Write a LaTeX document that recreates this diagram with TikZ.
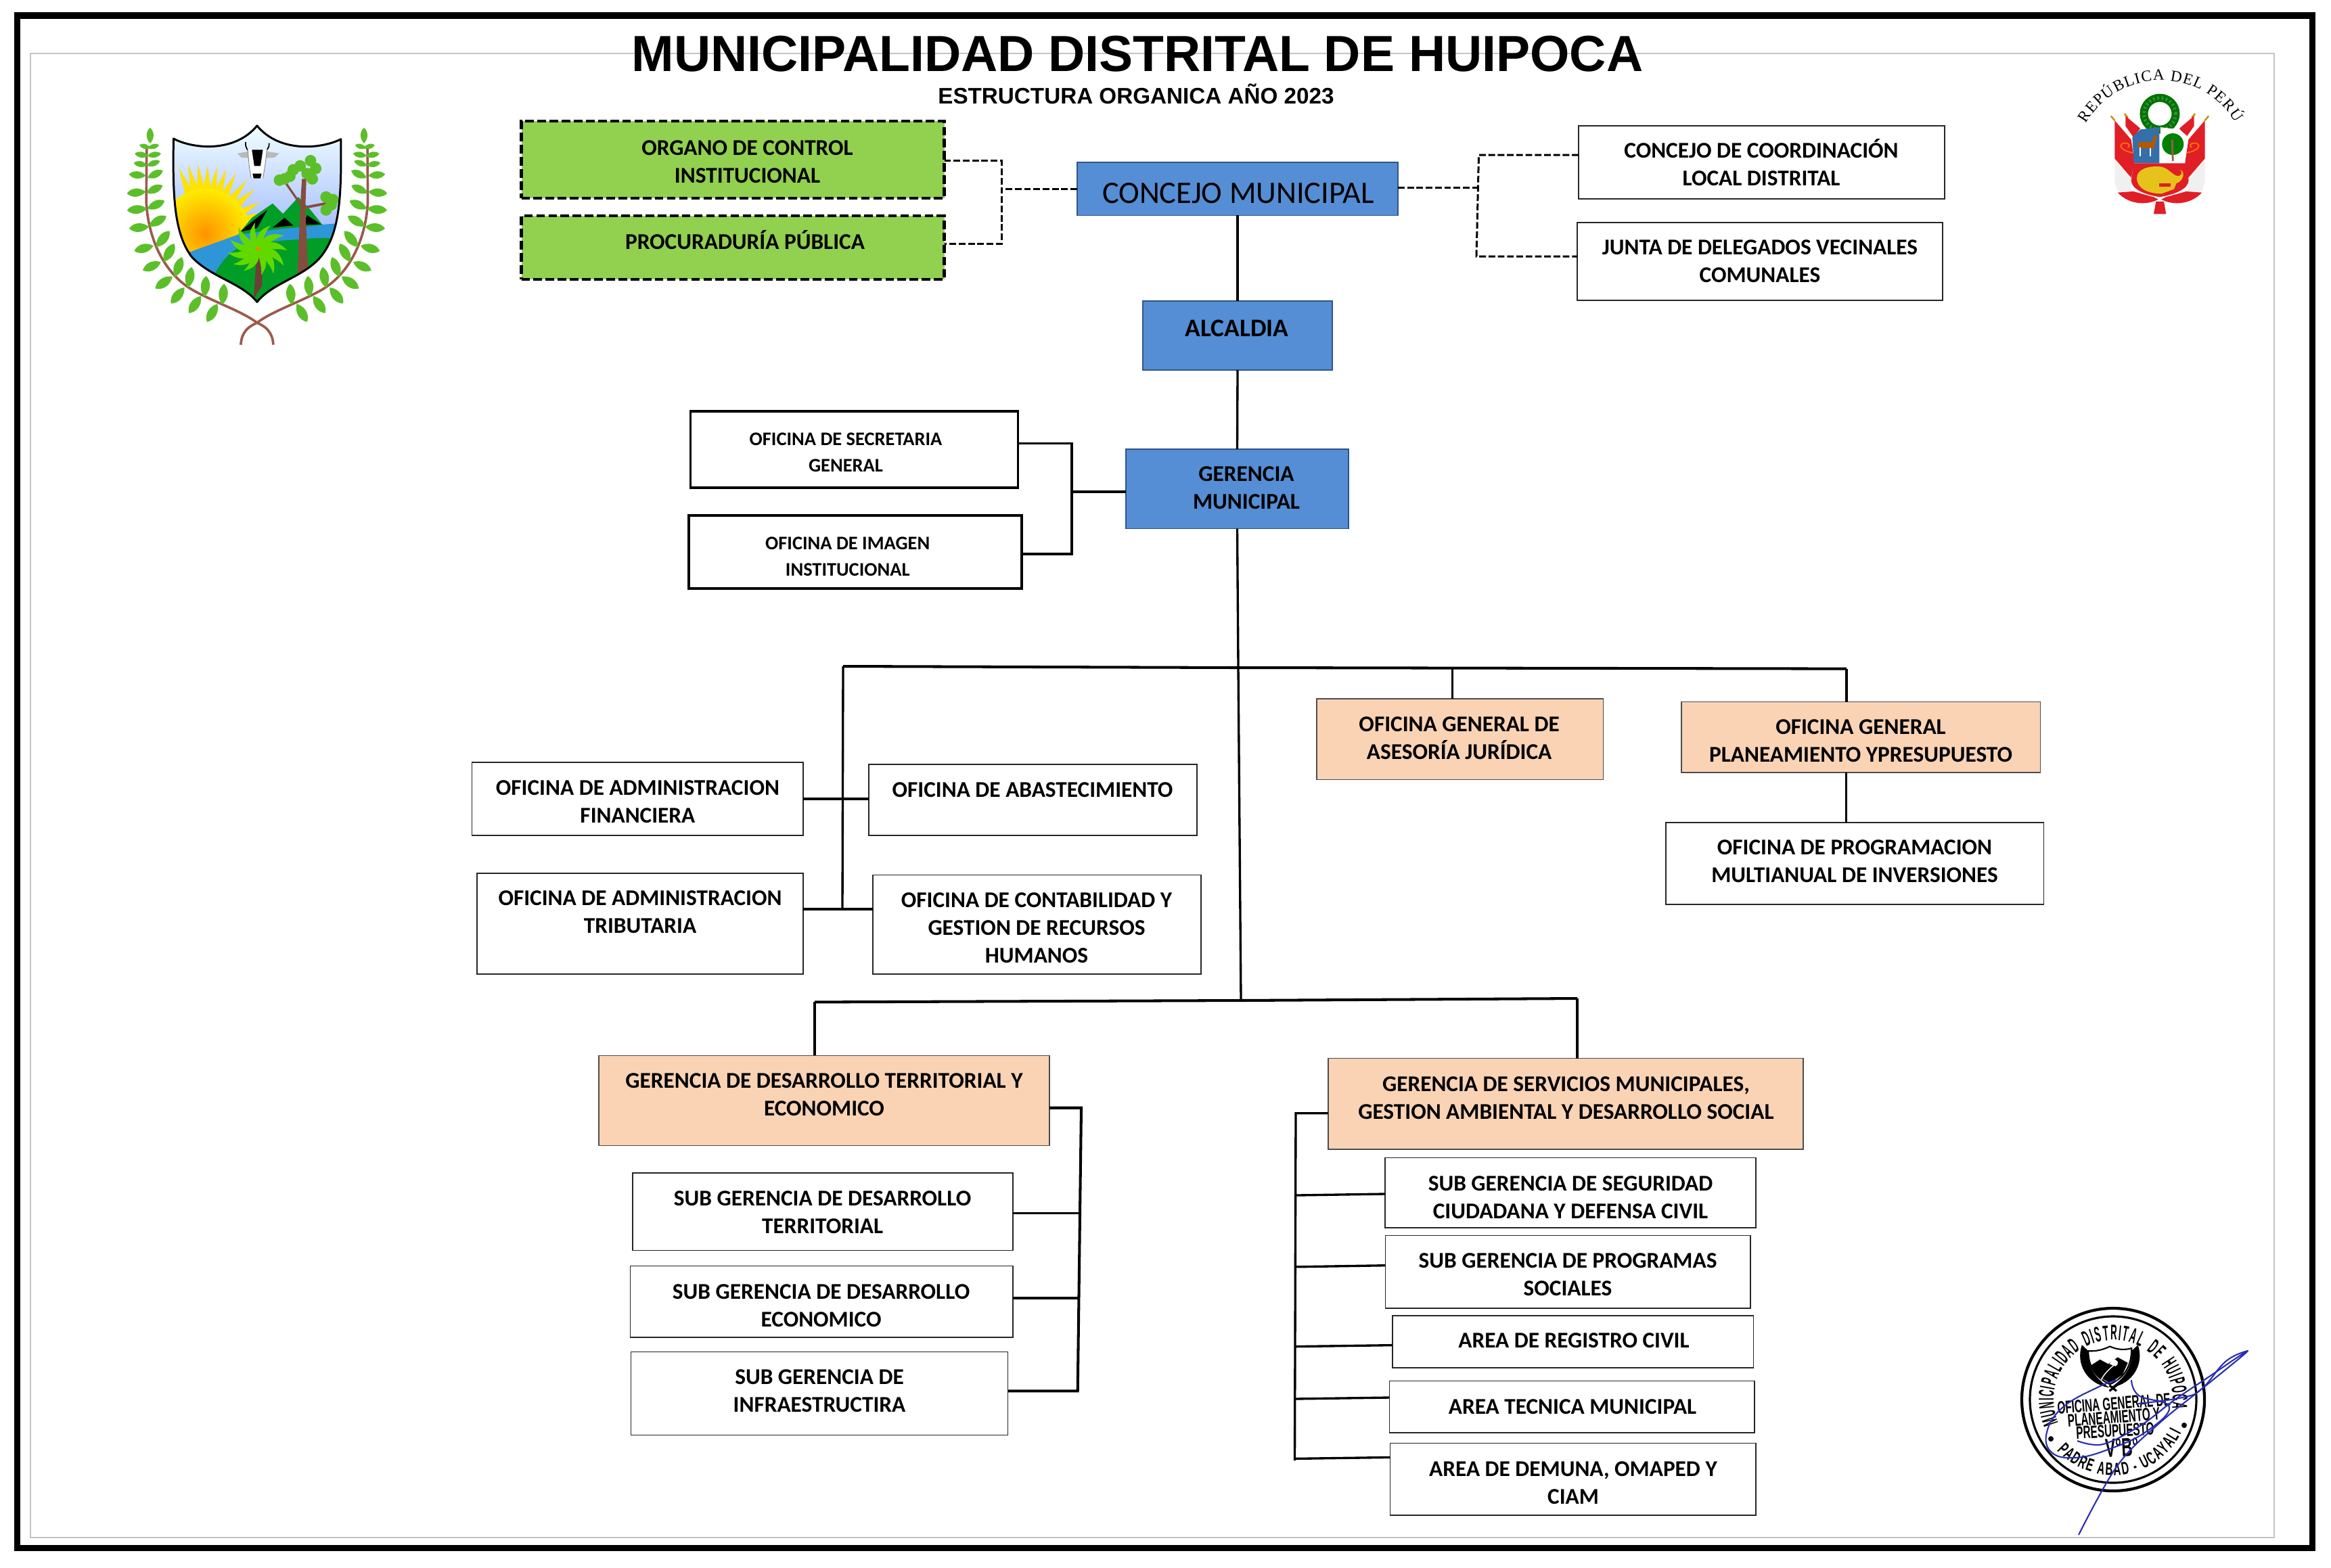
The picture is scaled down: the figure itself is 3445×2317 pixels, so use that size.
\documentclass[tikz,border=0pt]{standalone}
\usepackage{fontspec}
\setmainfont{Carlito}
\newfontfamily\arialfam{Liberation Sans}
\newfontfamily\seriffam{Liberation Serif}
\newfontfamily\stampfam[FakeStretch=0.58]{Liberation Sans}
\newfontfamily\ringfam[FakeStretch=0.42]{Liberation Sans}
\usetikzlibrary{decorations.text,calc}
\definecolor{bluefill}{HTML}{558ED5}
\definecolor{blueedge}{HTML}{2F5586}
\definecolor{greenfill}{HTML}{92D050}
\definecolor{peachfill}{HTML}{FAD3B5}
\definecolor{innerframe}{HTML}{C4C4C4}
\definecolor{leafgreen}{HTML}{5CBF2A}
\definecolor{stemcol}{HTML}{9B5B4B}
\definecolor{inkblue}{HTML}{2A2FB0}
\definecolor{perured}{HTML}{E01E26}
\tikzset{
  boxbase/.style={draw,inner sep=0pt,outer sep=0pt,rectangle},
  font33/.style={font=\fontsize{9.47}{11.67}\selectfont\bfseries},
  font27/.style={font=\fontsize{8.08}{11.24}\selectfont\bfseries},
  whitebox/.style={boxbase,fill=white,draw=black!85,line width=0.45pt,font33},
  heavybox/.style={boxbase,fill=white,line width=1.1pt,font27},
  greenbox/.style={boxbase,fill=greenfill,line width=1.2pt,dash pattern=on 3.6pt off 1.5pt,font33},
  bluebox/.style={boxbase,fill=bluefill,draw=blueedge,line width=0.5pt,font33},
  peachbox/.style={boxbase,fill=peachfill,draw=black!70,line width=0.45pt,font33},
  conn/.style={line width=0.95pt,line cap=butt,line join=miter},
  connheavy/.style={line width=1.15pt},
  connd/.style={line width=0.85pt,dash pattern=on 2.8pt off 1.1pt},
}
\newcommand\bx[9]{%
  \pgfmathsetlengthmacro\bxw{(#5-#3)*0.01cm}%
  \pgfmathsetlengthmacro\bxh{(#6-#4)*0.01cm}%
  \pgfmathsetlengthmacro\bxd{2*(#7-(#3+#5)/2)*0.01cm}%
  \pgfmathsetlengthmacro\bxr{((#4+#6)/2-#8)*0.01cm}%
  \node[#1,minimum width=\bxw,minimum height=\bxh] (#2) at ({(#3+#5)/2},{(#4+#6)/2})
    {\makebox[0pt]{\hspace*{\bxd}\raisebox{\bxr}[0pt][0pt]{\begin{tabular}[t]{@{}c@{}}#9\end{tabular}}}};%
}
\newcommand\leafshape[4]{%
  \fill[leafgreen,shift={(#1,#2)},rotate=#3,scale=#4] (-0.155cm,0) .. controls (-0.05cm,0.095cm) and (0.08cm,0.085cm) .. (0.155cm,0) .. controls (0.08cm,-0.085cm) and (-0.05cm,-0.095cm) .. (-0.155cm,0) -- cycle;}
\begin{document}
\begin{tikzpicture}[x=0.01cm,y=-0.01cm]
\useasboundingbox (0,0) rectangle (3445,2317);
\fill[white] (0,0) rectangle (3445,2317);
% frames
\draw[innerframe,line width=0.55pt] (45,79) rectangle (3361,2273);
\draw[black,line width=2.7pt] (25.5,23) rectangle (3417.5,2288.5);
% title
\node[anchor=base,font=\fontsize{21.35}{24}\selectfont\arialfam\bfseries,inner sep=0pt] (title) at (1681,105) {MUNICIPALIDAD DISTRITAL DE HUIPOCA};
\node[anchor=base,font=\fontsize{9.45}{12}\selectfont\arialfam\bfseries,inner sep=0pt] (subtitle) at (1679,153) {ESTRUCTURA ORGANICA AÑO 2023};
% boxes
\bx{greenbox}{oci}{770.5}{179}{1395.5}{292.6}{1104.5}{229}{ORGANO DE CONTROL\\INSTITUCIONAL}
\bx{greenbox}{proc}{770.5}{319}{1395.5}{413}{1101}{368.7}{PROCURADURÍA PÚBLICA}
\bx{bluebox,font=\fontsize{13.16}{15}\selectfont}{conc}{1592}{240}{2066}{318.4}{1830}{300}{CONCEJO MUNICIPAL}
\bx{bluebox,font=\fontsize{10.65}{12}\selectfont\bfseries}{alc}{1689}{445}{1969}{547}{1828}{497.4}{ALCALDIA}
\bx{bluebox}{ger}{1664}{664}{1993}{781.6}{1842}{711.8}{GERENCIA\\MUNICIPAL}
\bx{whitebox}{ccl}{2333}{185.7}{2874}{294}{2603}{233.7}{CONCEJO DE COORDINACIÓN\\LOCAL DISTRITAL}
\bx{whitebox}{jdv}{2331}{328.7}{2871}{444}{2601}{376.7}{JUNTA DE DELEGADOS VECINALES\\COMUNALES}
\bx{heavybox}{sec}{1020.5}{608}{1504.5}{721}{1250}{658}{OFICINA DE SECRETARIA\\GENERAL}
\bx{heavybox}{img}{1018}{762.4}{1510}{870}{1252.7}{812}{OFICINA DE IMAGEN\\INSTITUCIONAL}
\bx{whitebox}{fin}{697.6}{1126.8}{1187}{1235}{942.4}{1175.6}{OFICINA DE ADMINISTRACION\\FINANCIERA}
\bx{whitebox}{aba}{1283.7}{1130}{1768.8}{1235}{1526}{1178}{OFICINA DE ABASTECIMIENTO}
\bx{whitebox}{tri}{705}{1290.7}{1187}{1440}{946}{1338.5}{OFICINA DE ADMINISTRACION\\TRIBUTARIA}
\bx{whitebox}{con}{1290}{1293.6}{1775}{1440}{1532}{1341}{OFICINA DE CONTABILIDAD Y\\GESTION DE RECURSOS\\HUMANOS}
\bx{peachbox}{ase}{1946}{1033}{2369.6}{1152.5}{2156.6}{1081.6}{OFICINA GENERAL DE\\ASESORÍA JURÍDICA}
\bx{peachbox}{pla}{2485}{1037.5}{3015.6}{1142}{2750}{1085.3}{OFICINA GENERAL\\PLANEAMIENTO YPRESUPUESTO}
\bx{whitebox}{pro}{2461.7}{1215.7}{3020.6}{1337}{2741}{1263}{OFICINA DE PROGRAMACION\\MULTIANUAL DE INVERSIONES}
\bx{peachbox}{gdt}{885}{1560.4}{1551}{1693.5}{1218}{1608.8}{GERENCIA DE DESARROLLO TERRITORIAL Y\\ECONOMICO}
\bx{whitebox}{ter}{935}{1734}{1496.7}{1848.4}{1215.6}{1782.9}{SUB GERENCIA DE DESARROLLO\\TERRITORIAL}
\bx{whitebox}{eco}{931.4}{1871.6}{1496.7}{1977}{1213.6}{1920}{SUB GERENCIA DE DESARROLLO\\ECONOMICO}
\bx{whitebox}{inf}{932.4}{1998.4}{1489.6}{2121.6}{1211}{2046.7}{SUB GERENCIA DE\\INFRAESTRUCTIRA}
\bx{peachbox}{gsm}{1962.8}{1564.6}{2665}{1698.8}{2314.4}{1613}{GERENCIA DE SERVICIOS MUNICIPALES,\\GESTION AMBIENTAL Y DESARROLLO SOCIAL}
\bx{whitebox}{seg}{2046.8}{1711.5}{2594.8}{1815}{2321}{1760}{SUB GERENCIA DE SEGURIDAD\\CIUDADANA Y DEFENSA CIVIL}
\bx{whitebox}{prg}{2047.3}{1826.3}{2587}{1934}{2317}{1874.8}{SUB GERENCIA DE PROGRAMAS\\SOCIALES}
\bx{whitebox}{reg}{2057.7}{1944.7}{2591.5}{2022}{2326}{1992.6}{AREA DE REGISTRO CIVIL}
\bx{whitebox}{tec}{2053.3}{2041.6}{2593}{2118}{2324}{2090}{AREA TECNICA MUNICIPAL}
\bx{whitebox}{dem}{2054.4}{2133.5}{2594.8}{2240}{2325}{2182}{AREA DE DEMUNA, OMAPED Y\\CIAM}
% junction coordinates
\coordinate (n1) at (1830,987);
\coordinate (n2) at (1834,1479);
\coordinate (tl) at (1246,985);
\coordinate (tl2) at (1245,1345);
\coordinate (tr) at (2729,988.6);
\coordinate (nl) at (1204,1481.4);
\coordinate (nr) at (2331,1476);
\coordinate (jg) at (1584,727);
\coordinate (jgs) at (1584,655.7);
\coordinate (jgi) at (1584,819);
\coordinate (jfin) at (1246,1181.4);
\coordinate (jtri) at (1245,1344);
\coordinate (jase) at (2146.6,987.5);
\coordinate (jpro) at (2728.7,1142);
\coordinate (r1) at (1598,1637.7);
\coordinate (r2) at (1592.7,2056.4);
\coordinate (rb1) at (1595,1793.5);
\coordinate (rb2) at (1595,1919);
\coordinate (l1) at (1915,1645.7);
\coordinate (l2) at (1913.5,2159);
\coordinate (lb1) at (1916,1767);
\coordinate (lb1e) at (2047,1765);
\coordinate (lb2) at (1915,1872.8);
\coordinate (lb2e) at (2044,1870.7);
\coordinate (lb3) at (1914,1990.6);
\coordinate (lb3e) at (2057,1988.6);
\coordinate (lb4) at (1912,2068);
\coordinate (lb4e) at (2053,2066);
\coordinate (lb5) at (1913.5,2156.4);
\coordinate (lb5e) at (2054,2154.4);
\coordinate (dl0) at (1480,279);
\coordinate (dl1) at (1480,237.6);
\coordinate (dl2) at (1480,360.5);
\coordinate (dr0) at (2184,277);
\coordinate (dr1) at (2185.5,229);
\coordinate (dr2) at (2182,379);
% connectors
\draw[conn] (conc.south) -- (alc.north);
\draw[conn] (alc.south) -- (ger.north);
\draw[conn] (ger.south) -- (n1) -- (n2);
\draw[connheavy] (ger.west |- jg) -- (jg);
\draw[conn] (sec.east |- jgs) -- (jgs) -- (jgi) -- (img.east |- jgi);
\draw[connheavy] (tl) -- (n1) -- (tr);
\draw[conn] (tl) -- (tl2);
\draw[connheavy] (fin.east |- jfin) -- (aba.west |- jfin);
\draw[connheavy] (tri.east |- jtri) -- (con.west |- jtri);
\draw[conn] (jase) -- (ase.north -| jase);
\draw[conn] (tr) -- (pla.north -| tr);
\draw[conn] (pla.south -| jpro) -- (pro.north -| jpro);
\draw[connheavy] (nl) -- (n2) -- (nr);
\draw[conn] (gdt.north -| nl) -- (nl);
\draw[conn] (gsm.north -| nr) -- (nr);
\draw[connheavy] (gdt.east |- r1) -- (r1) -- (r2) -- (inf.east |- r2);
\draw[conn] (ter.east |- rb1) -- (rb1);
\draw[conn] (eco.east |- rb2) -- (rb2);
\draw[conn] (gsm.west |- l1) -- (l1) -- (l2);
\draw[conn] (lb1) -- (lb1e -| seg.west);
\draw[conn] (lb2) -- (lb2e -| prg.west);
\draw[conn] (lb3) -- (lb3e -| reg.west);
\draw[conn] (lb4) -- (lb4e -| tec.west);
\draw[conn] (lb5) -- (lb5e -| dem.west);
\draw[connd] (conc.west |- dl0) -- (dl0);
\draw[connd] (oci.east |- dl1) -- (dl1) -- (dl2) -- (proc.east |- dl2);
\draw[connd] (conc.east |- dr0) -- (dr0);
\draw[connd] (ccl.west |- dr1) -- (dr1) -- (dr2) -- (jdv.west |- dr2);

% ---------- municipal crest (coordinates of the enlarged view) ----------
\begin{scope}[x=0.0051020cm,y=-0.0038270cm]
  \foreach \mir in {0,1}{
  \begin{scope}[shift={(1490*\mir,0)},xscale=1-2*\mir]
    \draw[stemcol,line width=1.05pt] (792,1330) .. controls (790,1280) and (770,1260) .. (745,1245) .. controls (700,1200) and (620,1165) .. (560,1120) .. controls (480,1060) and (430,930) .. (424,780) -- (425,570);
    \foreach \lx/\ly/\la/\ls in {435/523/90/0.75,420/565/165/0.55,445/565/15/0.55,410/597/170/0.65,447/597/10/0.65,407/633/170/0.65,445/630/20/0.65,398/675/175/0.8,450/672/25/0.8,395/743/185/0.9,448/730/25/0.85,397/808/185/0.95,452/790/25/0.9,403/878/185/0.95,457/853/30/0.95,417/958/195/0.95,472/922/50/1,440/1027/205/0.95,490/975/60/1,475/1090/215/1,517/1030/70/1,515/1140/230/1,550/1070/80/1,565/1175/235/1,595/1105/85/1,615/1207/240/1,647/1135/85/1}
      {\leafshape{\lx}{\ly}{\la}{\ls}}
  \end{scope}}
  \begin{scope}
    \clip (503,535) .. controls (560,575) and (680,590) .. (745,485) .. controls (810,590) and (930,575) .. (988,537) .. controls (990,760) and (985,900) .. (930,990) .. controls (880,1070) and (790,1090) .. (745,1165) .. controls (700,1090) and (610,1070) .. (555,990) .. controls (505,900) and (500,760) .. (503,535) -- cycle;
    \shade[top color=blue!3!cyan!6,bottom color=cyan!25!blue!35] (495,480) rectangle (995,900);
    \foreach \ra/\rl in {112/1.05,104/1.05,96/1.03,88/1,80/1,72/1.0,63/1.0,52/1.0,42/0.98,30/0.93,20/0.9}
      {\fill[yellow!85!orange,shift={(595,900)},rotate=\ra] (0,-0.16cm) -- (\rl cm,0) -- (0,0.16cm) -- cycle;}
    \shade[inner color=orange!85!yellow,outer color=yellow!85!orange] (595,900) circle[radius=0.66cm];
    \fill[cyan!70!blue!85!white] (495,990) -- (555,970) -- (690,905) -- (800,880) -- (900,870) -- (995,860) -- (995,1200) -- (495,1200) -- cycle;
    \fill[green!55!black!85!cyan] (690,905) -- (730,840) -- (790,785) -- (820,825) -- (865,760) -- (900,810) -- (935,868) -- (800,885) -- cycle;
    \fill[black] (695,895) -- (735,850) -- (775,810) -- (745,880) -- cycle;
    \fill[black] (790,878) -- (825,840) -- (850,870) -- cycle;
    \fill[black] (890,830) -- (930,865) -- (880,868) -- cycle;
    \fill[green!55!black!85!cyan] (610,1090) .. controls (640,1000) and (680,950) .. (720,945) .. controls (780,930) and (850,925) .. (900,920) .. controls (950,915) and (975,920) .. (995,925) -- (995,1200) -- (610,1200) -- cycle;
    \fill[stemcol!85!black] (862,1065) -- (870,800) -- (875,690) -- (888,690) -- (885,800) -- (893,1050) -- cycle;
    \draw[stemcol!85!black,line width=0.9pt] (872,790) -- (825,700);
    \draw[stemcol!85!black,line width=1.1pt] (885,800) -- (945,785);
    \foreach \fx/\fy in {870/640,900/620,915/650,890/670,905/690,850/655,825/690,810/695,840/680,945/760,960/790,945/810,965/770}
      {\fill[leafgreen] (\fx,\fy) circle[radius=0.085cm];}
    \fill[stemcol!70!black] (735,1155) -- (745,965) -- (760,965) -- (760,1100) -- cycle;
    \foreach \pa/\ps in {10/1,40/1,75/0.9,110/0.9,145/1,175/1,200/1.05,225/1,250/0.9,290/0.9,315/1,340/1.05}
      {\fill[green!55!yellow!85!black,shift={(748,960)},rotate=\pa,scale=\ps] (0,0) .. controls (0.12cm,0.1cm) and (0.3cm,0.1cm) .. (0.42cm,-0.1cm) .. controls (0.3cm,-0.03cm) and (0.12cm,-0.05cm) .. (0,0) -- cycle;}
    \fill[orange] (748,960) circle[radius=0.03cm];
  \end{scope}
  \draw[black,line width=0.85pt,line join=round] (503,535) .. controls (560,575) and (680,590) .. (745,485) .. controls (810,590) and (930,575) .. (988,537) .. controls (990,760) and (985,900) .. (930,990) .. controls (880,1070) and (790,1090) .. (745,1165) .. controls (700,1090) and (610,1070) .. (555,990) .. controls (505,900) and (500,760) .. (503,535) -- cycle;
  % cow head
  \draw[black,line width=0.5pt] (712,548) .. controls (710,570) and (718,582) .. (727,587);
  \draw[black,line width=0.5pt] (780,552) .. controls (782,570) and (772,582) .. (763,587);
  \fill[gray!55] (688,592) -- (725,583) -- (725,610) -- (700,608) -- cycle;
  \fill[gray!55] (810,592) -- (768,583) -- (768,610) -- (795,608) -- cycle;
  \fill[white] (718,575) -- (774,575) -- (768,640) -- (762,688) -- (728,688) -- (722,640) -- cycle;
  \draw[gray,line width=0.25pt] (718,575) -- (722,640) -- (728,688) (774,575) -- (768,640) -- (762,688);
  \fill[black] (730,578) -- (762,578) -- (755,640) -- (737,640) -- cycle;
  \fill[black] (732,670) -- (758,670) -- (755,688) -- (735,688) -- cycle;
\end{scope}

% ---------- national arms ----------
\begin{scope}[shift={(2950,50)},x=0.0033333cm,y=-0.0033333cm]
  \path[decorate,decoration={text along path,text align={fit to path},text={|\fontsize{6.6}{7}\selectfont\seriffam|REPÚBLICA DEL PERÚ}}]
    (400,398) .. controls (548,144) and (914,142) .. (1062,395);
  \foreach \mir in {0,1}{
  \begin{scope}[shift={(1454*\mir,0)},xscale=1-2*\mir]
    \draw[orange!60!yellow!80!black,line width=0.7pt] (510,365) -- (527,385);
    \draw[orange!60!yellow!80!black,line width=0.7pt] (570,355) -- (585,372);
    \fill[perured] (575,365) -- (640,420) -- (610,460) -- (575,410) -- cycle;
    \fill[white] (570,420) -- (590,440) -- (585,470) -- (565,440) -- cycle;
    \fill[perured] (527,385) -- (600,470) -- (615,570) -- (600,640) -- (527,555) -- cycle;
    \fill[black!6] (527,555) -- (600,640) -- (600,700) -- (540,700) -- (527,660) -- cycle;
    \fill[perured] (540,705) -- (610,700) -- (700,725) -- (720,735) .. controls (690,755) and (600,770) .. (540,705) -- cycle;
    \draw[orange!90!red,line width=0.5pt] (615,530) .. controls (550,520) and (540,490) .. (570,485) .. controls (590,485) and (600,495) .. (585,505);
  \end{scope}}
  \draw[green!45!black,line width=3.4pt] (727,355) circle[radius=0.235cm];
  \draw[green!45!black!80!white,line width=1.4pt,dash pattern=on 0.8pt off 1pt] (727,355) circle[radius=0.235cm];
  \fill[cyan!55!blue!80!black] (605,460) -- (640,425) -- (725,415) -- (725,575) -- (612,575) -- cycle;
  \fill[white] (730,415) -- (815,425) -- (855,460) -- (838,575) -- (730,575) -- cycle;
  \fill[orange!70!black] (630,480) -- (690,480) -- (705,450) -- (716,450) -- (700,510) -- (630,505) -- cycle;
  \draw[white,line width=0.5pt] (640,505) -- (640,545) (685,508) -- (685,545);
  \fill[green!50!black] (785,490) circle[radius=0.16cm];
  \draw[stemcol,line width=0.8pt] (782,470) -- (785,565);
  \fill[perured] (612,575) -- (845,575) -- (855,650) .. controls (855,690) and (790,715) .. (727,725) .. controls (660,715) and (600,690) .. (600,650) -- cycle;
  \fill[yellow!85!red!90!black] (625,640) .. controls (625,600) and (680,585) .. (730,590) .. controls (770,595) and (790,640) .. (815,630) .. controls (830,625) and (825,600) .. (810,605) .. controls (840,600) and (840,650) .. (800,665) -- (790,690) -- (735,710) .. controls (680,710) and (625,690) .. (625,640) -- cycle;
  \fill[perured] (725,665) rectangle (775,678);
  \fill[perured] (710,745) -- (745,745) -- (755,800) -- (700,800) -- cycle;
\end{scope}

% ---------- stamp ----------
\coordinate (stampc) at (3123,2069);
\draw[black,line width=1.2pt] (stampc) circle[radius=135];
\draw[black,line width=0.9pt] (stampc) circle[radius=123];
\gdef\ringpos{0}
\foreach \ch/\chw [count=\ci] in {M/1.05,U/1,N/1,I/0.5,C/1,I/0.5,P/1,A/1,L/1,I/0.5,D/1,A/1,D/1,/0.8,D/1,I/0.5,S/1,T/1,R/1,I/0.5,T/1,A/1,L/1,/0.8,D/1,E/1,/0.8,H/1,U/1,I/0.5,P/1,O/1,C/1,A/1}{
  \pgfmathsetmacro\ringang{203-(\ringpos+\chw/2)*6.95}
  \ifx\ch\empty\else
    \node[anchor=base,inner sep=0pt,rotate=\ringang-90,font=\fontsize{9}{10}\selectfont\ringfam\bfseries] (ringletter\ci) at ($(stampc)+({-1*\ringang}:88)$) {\ch};
  \fi
  \pgfmathsetmacro\ringnext{\ringpos+\chw}
  \xdef\ringpos{\ringnext}
}
\path[decorate,decoration={text along path,text align={fit to path},text={|\fontsize{7.5}{8}\selectfont\stampfam\bfseries|PADRE ABAD - UCAYALI}}]
  ($(stampc)+(-222:112)$) arc[start angle=-222,end angle=-334,radius=112];
\fill (3031,2127) circle[radius=4];
\fill (3228,2107) circle[radius=4];
\begin{scope}[shift={(2900,1850)},x=0.0034760cm,y=-0.0033333cm]
  \fill[black] (508,415) .. controls (480,500) and (530,590) .. (625,605) .. controls (565,565) and (530,510) .. (535,442) -- cycle;
  \fill[black] (746,415) .. controls (774,500) and (724,590) .. (629,605) .. controls (689,565) and (724,510) .. (719,442) -- cycle;
  \draw[black,line width=0.6pt,fill=white] (535,442) .. controls (570,445) and (600,435) .. (627,422) .. controls (655,435) and (685,440) .. (719,430) .. controls (719,520) and (680,565) .. (627,590) .. controls (574,565) and (535,520) .. (535,442) -- cycle;
  \fill[black] (548,505) -- (585,480) -- (620,500) -- (660,470) -- (703,495) -- (680,548) -- (627,585) -- (568,548) -- cycle;
  \fill[white] (640,478) .. controls (660,480) and (670,500) .. (650,510) -- (625,500) -- cycle;
  \draw[white,line width=0.4pt] (590,570) .. controls (610,530) and (640,510) .. (660,490);
  \draw[black,line width=0.9pt] (625,595) -- (655,620) (655,595) -- (625,620);
\end{scope}
\node[rotate=4.5,inner sep=0pt,font=\fontsize{7.5}{8}\selectfont\stampfam\bfseries] (st1) at (3124,2075) {OFICINA GENERAL DE};
\node[rotate=4.5,inner sep=0pt,font=\fontsize{7.5}{8}\selectfont\stampfam\bfseries] (st2) at (3124,2095) {PLANEAMIENTO Y};
\node[rotate=3,inner sep=0pt,font=\fontsize{7.5}{8}\selectfont\stampfam\bfseries] (st3) at (3126,2115) {PRESUPUESTO};
\node[rotate=3,inner sep=0pt,font=\fontsize{11}{12}\selectfont\stampfam\bfseries] (st4) at (3136,2140) {V°B°};
% signature
\draw[inkblue,line width=0.6pt,line join=round] plot[smooth,tension=0.6] coordinates {(3072,2269) (3129,2167) (3190,2105) (3258,2050) (3322,1997) (3262,2037) (3213,2070) (3164,2107) (3108,2135) (3070,2130)};
\draw[inkblue,line width=0.6pt] plot[smooth,tension=0.7] coordinates {(3150,2040) (3161,2063) (3206,2080) (3171,2117) (3115,2143) (3067,2155) (3032,2147) (3025,2117) (3049,2080) (3102,2050) (3130,2040)};
\draw[inkblue,line width=0.6pt] plot[smooth,tension=0.7] coordinates {(3322,1997) (3290,2012) (3254,2053) (3225,2066) (3160,2075)};
\end{tikzpicture}
\end{document}
